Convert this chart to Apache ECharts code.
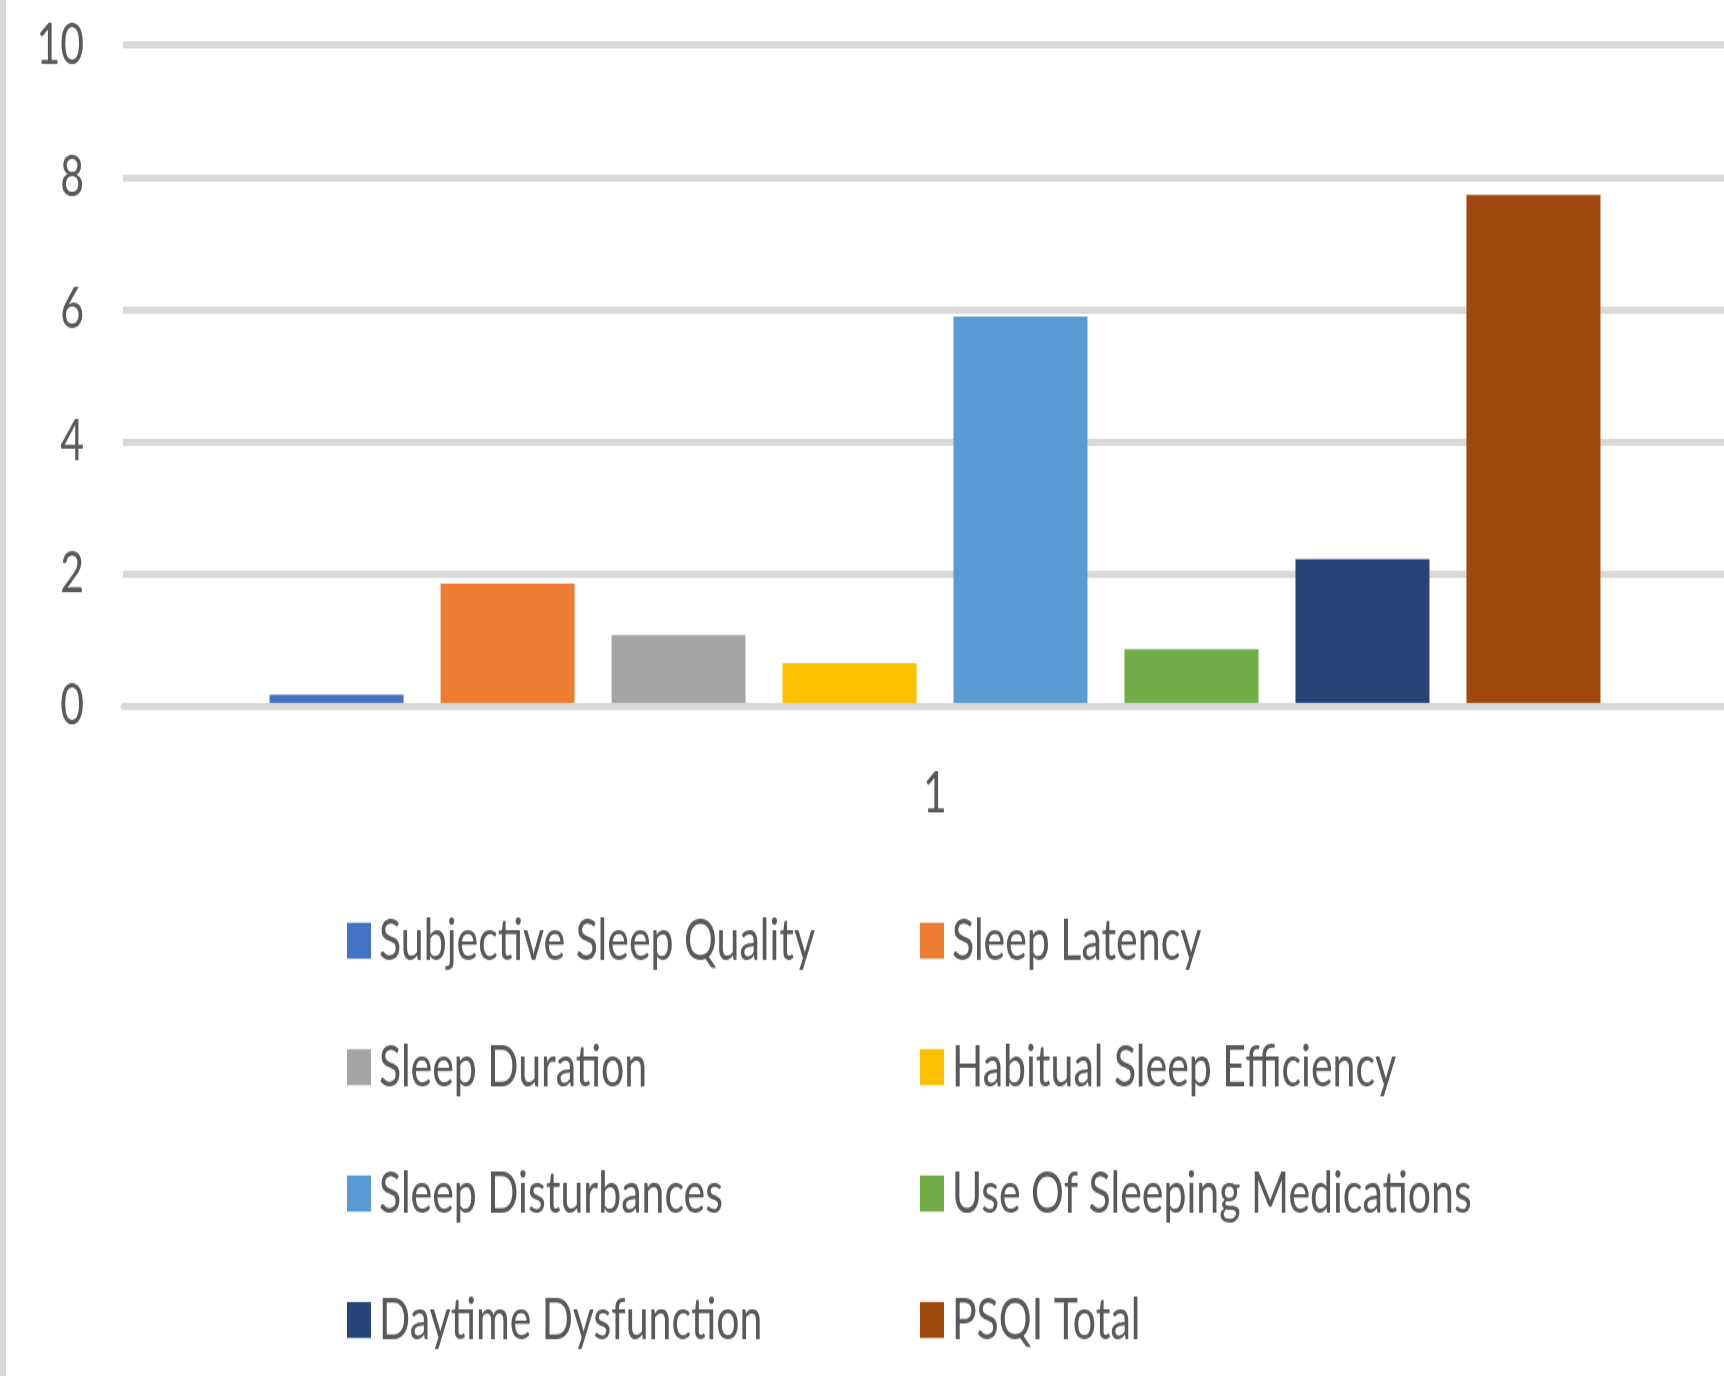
<!DOCTYPE html>
<html>
<head>
<meta charset="utf-8">
<script src="https://cdn.jsdelivr.net/npm/echarts@6/dist/echarts.min.js"></script>
<style>
  html { overflow: hidden; }
  html, body { margin: 0; padding: 0; background: #fff; }
  body { width: 1724px; height: 1376px; }
  #chart { transform-origin: 0 0; }
</style>
</head>
<body>
<div id="chart"></div>
<script>
// PSQI component scores (single group "1")
const categories = ['1'];
const componentNames = [
  'Subjective Sleep Quality',
  'Sleep Latency',
  'Sleep Duration',
  'Habitual Sleep Efficiency',
  'Sleep Disturbances',
  'Use Of Sleeping Medications',
  'Daytime Dysfunction',
  'PSQI Total'
];
const componentScores = [0.17, 1.85, 1.07, 0.65, 5.89, 0.86, 2.22, 7.73];
const valueTicks = [0, 2, 4, 6, 8, 10];

// Office palette
const palette = ['#4472C4', '#ED7D31', '#A5A5A5', '#FFC000', '#5B9BD5', '#70AD47', '#264478', '#9E480E'];

// Tall, condensed lettering: the canvas is drawn shorter and stretched vertically.
// The plot area runs a little past the right edge of the page.
const STRETCH = 1.42;
const W = 1747, H = 1376;
const CH = H / STRETCH;
const el = document.getElementById('chart');
el.style.width = W + 'px';
el.style.height = CH + 'px';
el.style.transform = 'scaleY(' + STRETCH + ')';
const y = v => v / STRETCH;   // screen px -> canvas px (vertical)

const FONT = 'Lato';
const FS = 41;
const TXT = '#595959';
const GRID = '#d9d9d9';
const LH = 40;

const chart = echarts.init(el, null, { renderer: 'canvas' });

const legendBase = {
  type: 'plain',
  orient: 'vertical',
  top: y(940) - LH / 2,
  height: CH - (y(940) - LH / 2),
  itemWidth: 24,
  itemHeight: y(36),
  itemGap: y(125.0) - LH,
  padding: 0,
  icon: 'rect',
  selectedMode: false,
  textStyle: { fontFamily: FONT, fontSize: FS, color: TXT, lineHeight: LH, padding: [0, 0, 0, 3] }
};

chart.setOption({
  animation: false,
  backgroundColor: '#ffffff',
  color: palette,
  graphic: [{
    type: 'rect',
    left: 0, top: 0,
    shape: { x: 0, y: 0, width: 6, height: CH },
    style: { fill: '#d6dad6' },
    silent: true
  }],
  grid: {
    left: 123,
    right: 0,
    top: y(45),
    bottom: CH - y(706),
    containLabel: false
  },
  legend: [
    Object.assign({}, legendBase, {
      left: 347,
      data: [componentNames[0], componentNames[2], componentNames[4], componentNames[6]]
    }),
    Object.assign({}, legendBase, {
      left: 920,
      data: [componentNames[1], componentNames[3], componentNames[5], componentNames[7]]
    })
  ],
  xAxis: {
    type: 'category',
    data: categories,
    z: 10,
    axisLine: { show: true, lineStyle: { color: GRID, width: 5 } },
    axisTick: { show: false },
    axisLabel: { fontFamily: FONT, fontSize: FS, color: TXT, margin: 41 }
  },
  yAxis: {
    type: 'value',
    min: valueTicks[0],
    max: valueTicks[valueTicks.length - 1],
    interval: valueTicks[1] - valueTicks[0],
    axisLine: { show: false },
    axisTick: { show: false },
    axisLabel: { fontFamily: FONT, fontSize: FS, color: TXT, margin: 39 },
    splitLine: { show: true, lineStyle: { color: GRID, width: 5 } }
  },
  series: componentNames.map((name, i) => ({
    name: name,
    type: 'bar',
    data: [componentScores[i]],
    barWidth: 134,
    barGap: '27.6%',
    itemStyle: { color: palette[i] }
  }))
});
</script>
</body>
</html>
